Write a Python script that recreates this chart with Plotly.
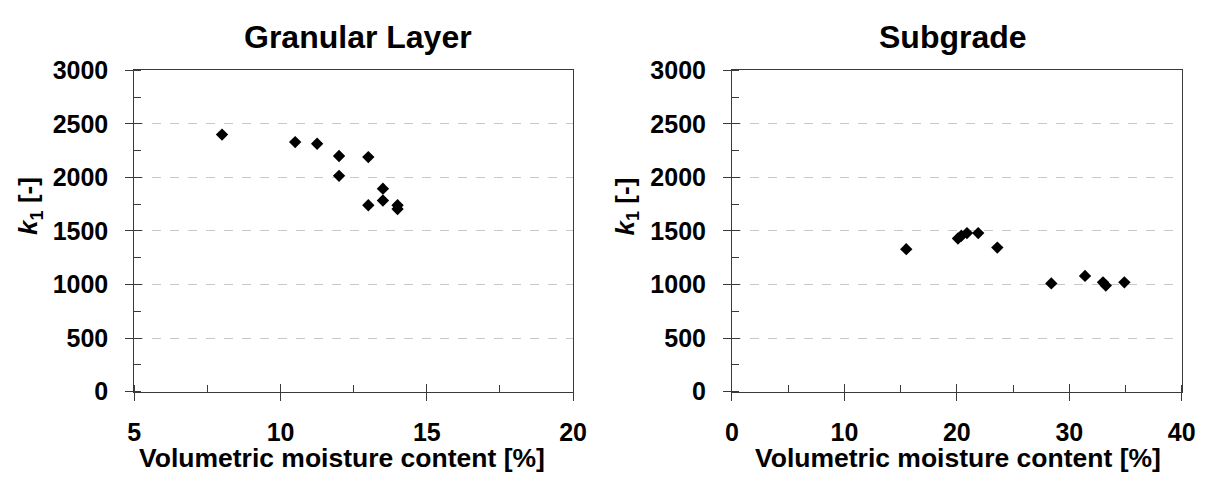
import plotly.graph_objects as go

# Data
gran_moisture = [8.0, 10.5, 11.25, 12.0, 13.0, 12.0, 13.5, 13.5, 13.0, 14.0, 14.0]
gran_k1 = [2400, 2330, 2315, 2200, 2190, 2015, 1895, 1785, 1740, 1740, 1705]
sub_moisture = [15.5, 20.1, 20.4, 20.9, 21.9, 23.6, 28.4, 31.4, 33.0, 33.25, 34.9]
sub_k1 = [1330, 1430, 1455, 1480, 1480, 1345, 1010, 1080, 1020, 990, 1020]

titles = ["Granular Layer", "Subgrade"]
x_title = "Volumetric moisture content [%]"
y_title = "<i>k</i><sub>1</sub> [-]"

W, H = 1219, 489
FONT = "Liberation Sans, Arial, sans-serif"
LINE = "#3a3a3a"

dom_l = [129.5 / W, 576 / W]
dom_r = [737.7 / W, 1195.3 / W]
dom_y = [1 - 400.5 / H, 1 - 59.8 / H]

fig = go.Figure()
marker = dict(symbol="diamond", size=9.5, color="black")
fig.add_trace(go.Scatter(x=gran_moisture, y=gran_k1, mode="markers", marker=marker,
                         xaxis="x", yaxis="y", showlegend=False, hoverinfo="skip"))
fig.add_trace(go.Scatter(x=sub_moisture, y=sub_k1, mode="markers", marker=marker,
                         xaxis="x2", yaxis="y2", showlegend=False, hoverinfo="skip"))

tickfont = dict(family=FONT, size=25, color="black", weight="bold")


def xax(dom, rng, dtick, anchor):
    return dict(domain=dom, range=rng, dtick=dtick, tick0=0, anchor=anchor,
                showline=True, linecolor=LINE, linewidth=1, mirror=True,
                ticks="outside", ticklen=8, tickcolor=LINE, tickwidth=1,
                showgrid=False, zeroline=False, tickfont=tickfont,
                ticklabelstandoff=10,
                minor=dict(dtick=dtick / 2, ticks="inside", ticklen=7,
                           tickcolor=LINE, showgrid=False),
                fixedrange=True)


def yax(dom, anchor):
    return dict(domain=dom, range=[0, 3000], dtick=500, anchor=anchor,
                showline=True, linecolor=LINE, linewidth=1, mirror=True,
                ticks="outside", ticklen=8, tickcolor=LINE, tickwidth=1,
                showgrid=True, gridcolor="#c8c8c8", griddash="dash", gridwidth=1,
                zeroline=False, tickfont=tickfont, ticklabelstandoff=12,
                minor=dict(dtick=250, ticks="inside", ticklen=7,
                           tickcolor=LINE, showgrid=False),
                fixedrange=True)


def overlay(base, dom, rng, dtick, anchor, side):
    return dict(overlaying=base, domain=dom, range=rng, dtick=dtick, tick0=0,
                anchor=anchor, side=side, ticks="inside", ticklen=8,
                tickcolor=LINE, tickwidth=1, showticklabels=False,
                showgrid=False, zeroline=False, showline=False, fixedrange=True)


fig.update_layout(
    width=W, height=H,
    margin=dict(l=0, r=0, t=0, b=0),
    paper_bgcolor="white", plot_bgcolor="white",
    xaxis=xax(dom_l, [5, 20], 5, "y"),
    yaxis=yax(dom_y, "x"),
    xaxis2=xax(dom_r, [0, 40], 10, "y2"),
    yaxis2=yax(dom_y, "x2"),
    xaxis3=overlay("x", dom_l, [5, 20], 5, "y", "bottom"),
    yaxis3=overlay("y", dom_y, [0, 3000], 500, "x", "left"),
    xaxis4=overlay("x2", dom_r, [0, 40], 10, "y2", "bottom"),
    yaxis4=overlay("y2", dom_y, [0, 3000], 500, "x2", "left"),
)

# empty traces so the overlay axes (inner half of the crossing major ticks) are drawn
fig.add_trace(go.Scatter(x=[None], y=[None], xaxis="x3", yaxis="y3", showlegend=False, hoverinfo="skip"))
fig.add_trace(go.Scatter(x=[None], y=[None], xaxis="x4", yaxis="y4", showlegend=False, hoverinfo="skip"))

annots = []
# (title, title centre px, x-title centre px, y-title centre px)
for title, tcx, xcx, ycx in [(titles[0], 357.5, 341, 23), (titles[1], 963, 968, 630)]:
    annots.append(dict(text=title, x=tcx / W, y=1 - 24.5 / H, xref="paper", yref="paper",
                       xanchor="center", yanchor="middle", showarrow=False,
                       font=dict(family=FONT, size=32, color="black", weight="bold")))
    annots.append(dict(text=x_title, x=xcx / W, y=1 - 471 / H, xref="paper", yref="paper",
                       xanchor="center", yanchor="middle", showarrow=False,
                       font=dict(family=FONT, size=26.5, color="black", weight="bold")))
    annots.append(dict(text=y_title, x=ycx / W, y=1 - 204 / H, xref="paper", yref="paper",
                       xanchor="center", yanchor="middle", showarrow=False, textangle=-90,
                       font=dict(family=FONT, size=26, color="black", weight="bold")))
fig.update_layout(annotations=annots)

fig.write_html("out.html", config={"displayModeBar": False})
